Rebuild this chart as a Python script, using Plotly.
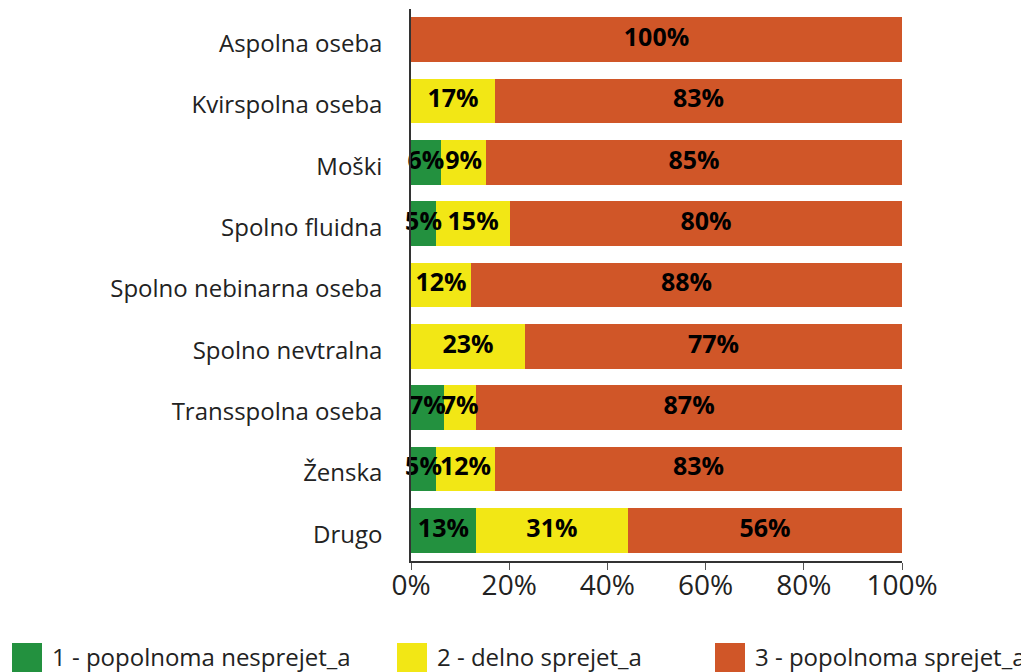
import plotly.graph_objects as go

categories = ["Aspolna oseba", "Kvirspolna oseba", "Moški", "Spolno fluidna",
              "Spolno nebinarna oseba", "Spolno nevtralna", "Transspolna oseba",
              "Ženska", "Drugo"]
series_names = ["1 - popolnoma nesprejet_a", "2 - delno sprejet_a", "3 - popolnoma sprejet_a"]
nesprejet = [0, 0, 6.1, 5.1, 0, 0, 6.7, 5.1, 13.2]
delno = [0, 17.1, 9.2, 15.1, 12.2, 23.2, 6.6, 12.0, 31.0]
sprejet = [100, 82.9, 84.7, 79.8, 87.8, 76.8, 86.7, 82.9, 55.8]
colors = ["#23913f", "#f2e715", "#d05628"]
tick_vals = [0, 20, 40, 60, 80, 100]
tick_text = ["0%", "20%", "40%", "60%", "80%", "100%"]

FONT = "Open Sans"
# the page body has an 8px margin; figure placed at (8, 8)
W, H = 1021, 664
L, R, T, B = 403, 127, 1, 111
PW, PH = W - L - R, H - T - B

series = [nesprejet, delno, sprejet]
fig = go.Figure()
for name, vals, col in zip(series_names, series, colors):
    fig.add_trace(go.Bar(
        y=categories, x=vals, name=name, orientation="h",
        marker=dict(color=col, line=dict(width=0)),
        showlegend=False, hoverinfo="skip",
    ))

# value labels drawn on top of all bars (so narrow-segment labels can overflow)
base = [0.0] * len(categories)
for vals in series:
    mids = [b + v / 2 for b, v in zip(base, vals)]
    fig.add_trace(go.Scatter(
        y=categories, x=mids, mode="text",
        text=[f"{round(v)}%" if v > 0 else "" for v in vals],
        textposition="middle center",
        textfont=dict(family=FONT, size=25, color="black", weight="bold"),
        cliponaxis=False, showlegend=False, hoverinfo="skip",
    ))
    base = [b + v for b, v in zip(base, vals)]

fig.update_layout(
    barmode="stack", bargap=0.27,
    width=W, height=H,
    margin=dict(l=L, r=R, t=T, b=B),
    plot_bgcolor="white", paper_bgcolor="white",
    font=dict(family=FONT, color="#222222"),
)
fig.update_yaxes(
    categoryorder="array", categoryarray=categories, autorange="reversed",
    showline=True, linecolor="#333333", linewidth=1.5,
    ticks="outside", ticklen=22, tickcolor="rgba(0,0,0,0)",
    tickfont=dict(family=FONT, size=24, color="#222222"),
    ticklabelshift=-4,
    showgrid=False,
)
fig.update_xaxes(
    range=[0, 100], tickvals=tick_vals, ticktext=tick_text,
    showline=True, linecolor="#333333", linewidth=1.5,
    ticks="outside", ticklen=7, tickcolor="#555555", tickwidth=1.2,
    tickfont=dict(family=FONT, size=28, color="#222222"),
    ticklabelstandoff=-8,
    showgrid=False, zeroline=False,
)

# legend drawn as swatches + text below the plot (screen px -> figure px: -8)
leg_x = [12, 397, 715]
def px_x(sx):
    return (sx - 8 - L) / PW
def px_y(sy):
    return (H - B - (sy - 8)) / PH
for name, col, sx in zip(series_names, colors, leg_x):
    fig.add_shape(type="rect", xref="paper", yref="paper",
                  x0=px_x(sx), x1=px_x(sx + 30), y0=px_y(673), y1=px_y(643),
                  fillcolor=col, line=dict(width=0))
    fig.add_annotation(xref="paper", yref="paper", x=px_x(sx + 38),
                       y=px_y(657), text=name, showarrow=False,
                       xanchor="left", yanchor="middle",
                       font=dict(family=FONT, size=24, color="#222222"))

fig.write_html("out.html")
